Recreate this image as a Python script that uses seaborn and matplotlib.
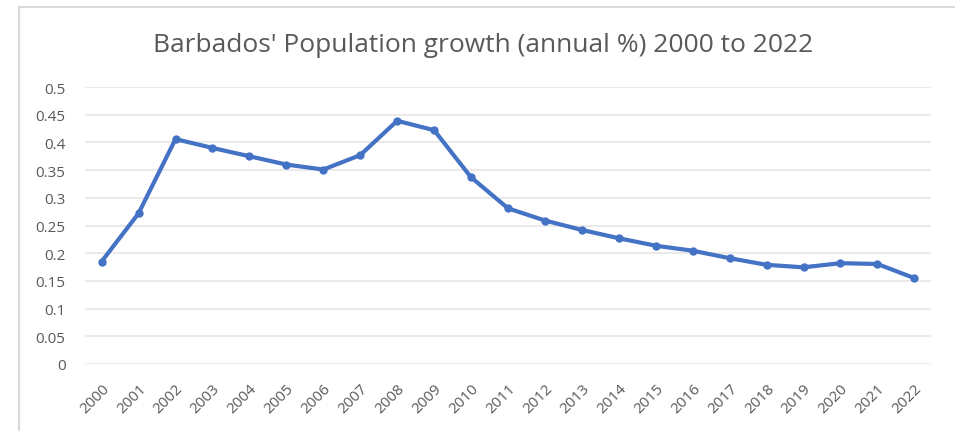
import matplotlib
matplotlib.use("Agg")
import matplotlib.pyplot as plt
import seaborn as sns
import pandas as pd
from matplotlib.lines import Line2D

years = [str(y) for y in range(2000, 2023)]
growth = [0.185, 0.272, 0.406, 0.390, 0.375, 0.360, 0.351, 0.377, 0.439, 0.422,
          0.337, 0.281, 0.259, 0.242, 0.227, 0.2135, 0.2045, 0.191, 0.179, 0.1745,
          0.182, 0.1805, 0.155]
yticks = [0, 0.05, 0.1, 0.15, 0.2, 0.25, 0.3, 0.35, 0.4, 0.45, 0.5]
ytick_labels = ["0", "0.05", "0.1", "0.15", "0.2", "0.25", "0.3", "0.35", "0.4", "0.45", "0.5"]
title = "Barbados' Population growth (annual %) 2000 to 2022"

sns.set_theme(style="white")
plt.rcParams['font.family'] = ['Open Sans', 'DejaVu Sans']

df = pd.DataFrame({"Year": years, "Growth": growth})
fig = plt.figure(figsize=(9.55, 4.35), dpi=100)
W, H = 955, 435
ax = fig.add_axes([85 / W, 1 - 365 / H, (931 - 85) / W, (365 - 88) / H])

sns.lineplot(data=df, x="Year", y="Growth", ax=ax, color="#4472C4", linewidth=3,
             marker="o", markersize=6, markeredgewidth=0, sort=False)

ax.set_xlim(-0.45, len(years) - 0.55)
ax.set_ylim(0, 0.5)
ax.set_yticks(yticks)
ax.set_yticklabels(ytick_labels)
ax.yaxis.grid(True, color="#E6E6E6", linewidth=1.2)
ax.set_axisbelow(True)
for s in ax.spines.values():
    s.set_visible(False)
ax.tick_params(axis="y", length=0, pad=14, labelsize=11, labelcolor="#595959")
ax.tick_params(axis="x", length=0, pad=12, labelsize=11, labelcolor="#595959")
for lab in ax.get_xticklabels():
    lab.set_rotation(45)
    lab.set_ha("right")
    lab.set_rotation_mode("anchor")
ax.set_xlabel("")
ax.set_ylabel("")

fig.text(483 / W, 1 - 45 / H, title, ha="center", va="center",
         fontsize=19, color="#595959")

# outer frame (top and left edges visible)
fig.add_artist(Line2D([19 / W, 1], [1 - 8 / H, 1 - 8 / H], transform=fig.transFigure,
                      color="#D9D9D9", linewidth=1.5))
fig.add_artist(Line2D([19 / W, 19 / W], [1 - 8 / H, 0.01], transform=fig.transFigure,
                      color="#D9D9D9", linewidth=1.5))

fig.savefig("out.png", dpi=100)
